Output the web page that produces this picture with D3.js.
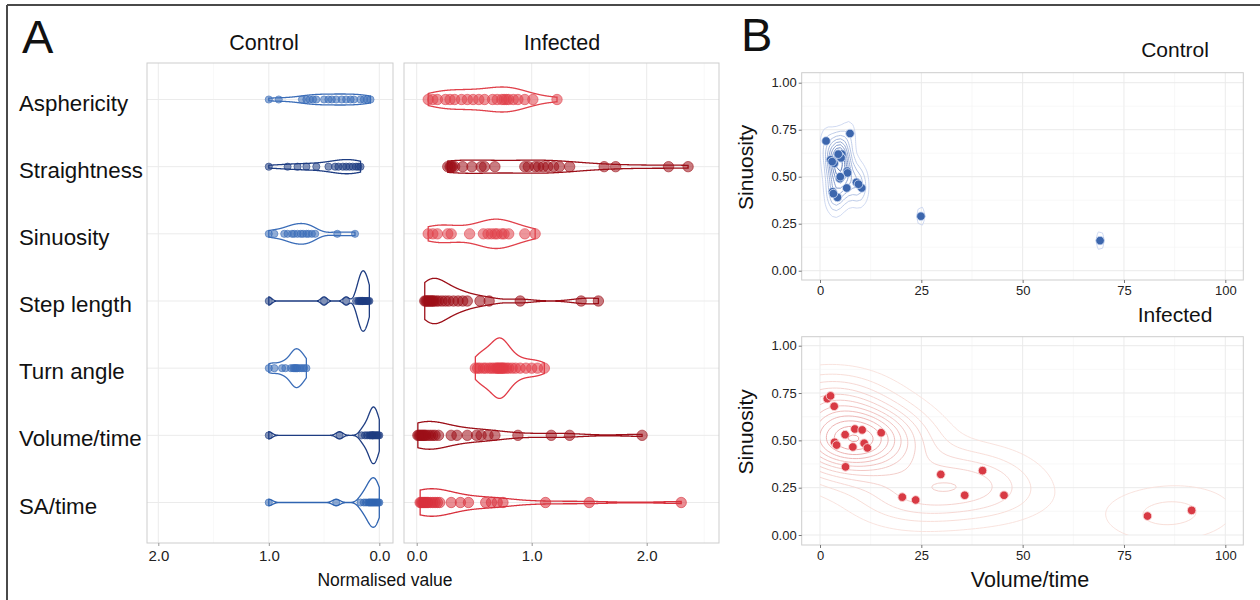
<!DOCTYPE html>
<html><head><meta charset="utf-8">
<script src="https://cdn.jsdelivr.net/npm/d3@7"></script>
<style>
body{margin:0;background:#fff}
svg{display:block}
text{font-family:"Liberation Sans",Arial,Helvetica,sans-serif}
</style>
</head><body>
<svg id="c" width="1260" height="600"></svg>
<script>
// ---------------- DATA ----------------
const features = ["Asphericity","Straightness","Sinuosity","Step length","Turn angle","Volume/time","SA/time"];
const groupNames = ["Control","Infected"];

// Panel A: normalised values per feature (Control)
const ctrlAsphericity = [1.00,0.91,0.70,0.66,0.63,0.60,0.57,0.50,0.46,0.43,0.39,0.34,0.30,0.26,0.23,0.17,0.14,0.11,0.08];
const ctrlStraightness = [1.00,0.83,0.74,0.66,0.57,0.46,0.40,0.37,0.33,0.30,0.27,0.24,0.21,0.19,0.17];
const ctrlSinuosity = [1.00,0.95,0.86,0.83,0.79,0.77,0.74,0.71,0.69,0.66,0.64,0.61,0.58,0.38,0.22];
const ctrlStepLength = [1.00,0.50,0.30,0.21,0.19,0.18,0.17,0.16,0.15,0.15,0.14,0.13,0.12,0.11,0.10,0.09];
const ctrlTurnAngle = [1.00,0.95,0.88,0.85,0.80,0.78,0.77,0.76,0.75,0.74,0.72,0.70,0.68,0.66];
const ctrlVolumeTime = [1.00,0.36,0.16,0.13,0.11,0.09,0.08,0.07,0.06,0.06,0.05,0.04,0.03,0.02,0.01,0.00];
const ctrlSATime = [1.00,0.39,0.17,0.14,0.12,0.10,0.09,0.08,0.07,0.06,0.05,0.04,0.03,0.02,0.01,0.00];

// Panel A: normalised values per feature (Infected)
const infAsphericity = [0.10,0.14,0.18,0.25,0.29,0.33,0.39,0.44,0.49,0.54,0.59,0.66,0.70,0.74,0.76,0.78,0.80,0.84,0.88,0.94,1.01,1.22];
const infStraightness = [0.27,0.29,0.30,0.31,0.33,0.40,0.48,0.56,0.59,0.68,0.94,0.97,1.03,1.06,1.10,1.14,1.19,1.24,1.33,1.63,1.73,2.19,2.36];
const infSinuosity = [0.10,0.14,0.18,0.27,0.30,0.46,0.58,0.62,0.65,0.68,0.70,0.74,0.76,0.80,0.94,1.03];
const infStepLength = [0.07,0.08,0.09,0.10,0.11,0.12,0.13,0.14,0.15,0.17,0.19,0.22,0.25,0.28,0.32,0.36,0.40,0.44,0.55,0.63,0.90,1.43,1.58];
const infTurnAngle = [0.51,0.53,0.55,0.58,0.60,0.63,0.65,0.67,0.69,0.70,0.71,0.72,0.73,0.74,0.75,0.76,0.78,0.80,0.83,0.86,0.90,0.95,1.00,1.05,1.11];
const infVolumeTime = [0.01,0.02,0.03,0.04,0.05,0.06,0.07,0.08,0.10,0.12,0.14,0.16,0.19,0.30,0.35,0.44,0.52,0.56,0.62,0.68,0.88,1.17,1.33,1.96];
const infSATime = [0.03,0.04,0.05,0.06,0.07,0.08,0.09,0.10,0.12,0.14,0.16,0.18,0.20,0.30,0.38,0.45,0.60,0.65,0.70,0.75,1.12,1.50,2.30];

const violinTicks = [2.0, 1.0, 0.0];
const violinTicksInf = [0.0, 1.0, 2.0];

// Panel B: Volume/time vs Sinuosity (control includes overlapping points)
const ctrlVolume = [1.5,7.4,2.6,3.5,4.9,5.4,4.9,6.7,6.6,9.0,10.3,3.1,4.3,24.9,69.1,4.9,5.2,3.0,6.8,9.5,3.3,5.0,4.5];
const ctrlSinu   = [0.69,0.73,0.59,0.57,0.615,0.62,0.49,0.53,0.44,0.47,0.44,0.42,0.39,0.29,0.16,0.61,0.60,0.58,0.52,0.46,0.41,0.50,0.62];
const infVolume = [1.8,2.6,3.5,3.6,4.1,6.2,8.6,10.4,8.1,10.9,11.7,15.1,6.3,20.3,23.6,29.8,35.7,40.1,45.4,80.8,91.7];
const infSinu   = [0.72,0.735,0.68,0.49,0.475,0.53,0.56,0.555,0.465,0.485,0.46,0.54,0.36,0.20,0.185,0.32,0.21,0.34,0.21,0.10,0.13];
const scatterXTicks = [0,25,50,75,100];
const scatterYTicks = [0,0.25,0.5,0.75,1];

// ---------------- STYLE ----------------
const ctrlColors = ["#3b6db8","#1e3d82","#3b6db8","#1e3d82","#3b6db8","#1e3d82","#2f64b1"];
const infColors  = ["#e0414b","#9c0f18","#e0414b","#9c0f18","#e13a46","#9c0f18","#d8313d"];
const gridMajor = "#ebebeb", gridMinor = "#f4f4f4", borderCol = "#cdcdcd";

const svg = d3.select("#c");

svg.append("line").attr("x1",7).attr("x2",1260).attr("y1",5).attr("y2",5).attr("stroke","#4a4a4a").attr("stroke-width",2);
svg.append("line").attr("x1",7).attr("x2",7).attr("y1",5).attr("y2",600).attr("stroke","#4a4a4a").attr("stroke-width",2);

svg.append("text").attr("x",22).attr("y",52.5).attr("font-size",47).attr("fill","#111").text("A");
svg.append("text").attr("x",741).attr("y",50.5).attr("font-size",47).attr("fill","#111").text("B");

// ---------------- PANEL A ----------------
const yRow = d3.scalePoint().domain(features).range([99.5, 502.5]);
const rowStep = yRow.step();
const aTop = 63, aBottom = 543;

const ctrlData = [ctrlAsphericity,ctrlStraightness,ctrlSinuosity,ctrlStepLength,ctrlTurnAngle,ctrlVolumeTime,ctrlSATime];
const infData  = [infAsphericity,infStraightness,infSinuosity,infStepLength,infTurnAngle,infVolumeTime,infSATime];

const xCtrl = d3.scaleLinear().domain([2,0]).range([158.3,379.3]);
const xInf  = d3.scaleLinear().domain([0,2]).range([416.7,646.7]);

function nrd0(v){
  const s = d3.deviation(v);
  const q = (d3.quantile(v,0.75)-d3.quantile(v,0.25))/1.34;
  let lo = Math.min(s,q);
  if(!(lo>0)) lo = s || 1;
  return 0.9*lo*Math.pow(v.length,-0.2);
}
function kde1(v){
  const bw = nrd0(v), lo = d3.min(v), hi = d3.max(v), n = 512;
  return d3.range(n).map(i=>{
    const t = lo+(hi-lo)*i/(n-1);
    let s = 0;
    for(const x of v){const z=(t-x)/bw; s+=Math.exp(-0.5*z*z);}
    return [t, s/(v.length*bw*Math.sqrt(2*Math.PI))];
  });
}

function violinPanel(data, x, colors, left, right, title, titleX, ticks){
  const g = svg.append("g");
  g.append("rect").attr("x",left).attr("y",aTop).attr("width",right-left).attr("height",aBottom-aTop).attr("fill","#fff");
  const lo = Math.min(x.invert(left),x.invert(right)), hi = Math.max(x.invert(left),x.invert(right));
  d3.range(Math.ceil(lo*2)/2, hi, 0.5).forEach(v=>{
    const major = Math.abs(v-Math.round(v))<1e-9;
    g.append("line").attr("x1",x(v)).attr("x2",x(v)).attr("y1",aTop).attr("y2",aBottom)
      .attr("stroke",major?gridMajor:gridMinor).attr("stroke-width",major?1:0.6);
  });
  features.forEach(f=>{
    g.append("line").attr("x1",left).attr("x2",right).attr("y1",yRow(f)).attr("y2",yRow(f)).attr("stroke",gridMajor);
  });
  const dens = data.map(kde1);
  const maxD = d3.max(dens, d=>d3.max(d, p=>p[1]));
  const w = d3.scaleLinear().domain([0,maxD]).range([0,0.45*rowStep]);
  dens.forEach((d,i)=>{
    const yc = yRow(features[i]);
    const area = d3.area().x(p=>x(p[0])).y0(p=>yc-w(p[1])).y1(p=>yc+w(p[1]));
    g.append("path").attr("d",area(d)).attr("fill","none").attr("stroke",colors[i]).attr("stroke-width",1.3);
  });
  data.forEach((vals,i)=>{
    const yc = yRow(features[i]);
    g.selectAll(null).data(vals).enter().append("circle")
      .attr("cx",v=>x(v)).attr("cy",yc).attr("r", title==="Control"?3.6:5.2)
      .attr("fill",colors[i]).attr("fill-opacity",0.55)
      .attr("stroke",colors[i]).attr("stroke-opacity",0.75).attr("stroke-width",0.8);
  });
  g.append("rect").attr("x",left).attr("y",aTop).attr("width",right-left).attr("height",aBottom-aTop)
    .attr("fill","none").attr("stroke",borderCol);
  const ax = d3.axisBottom(x).tickValues(ticks).tickFormat(d3.format(".1f")).tickSize(3).tickPadding(4);
  const axg = svg.append("g").attr("transform",`translate(0,${aBottom})`).call(ax);
  axg.select(".domain").remove();
  axg.selectAll(".tick line").attr("stroke","#999");
  axg.selectAll(".tick text").attr("font-size",15).attr("fill","#222").attr("font-family","'Open Sans','Liberation Sans',sans-serif");
  svg.append("text").attr("x",titleX).attr("y",50).attr("text-anchor","middle").attr("font-size",21.5).attr("fill","#111").text(title);
}
violinPanel(ctrlData, xCtrl, ctrlColors, 147, 393, groupNames[0], 264, violinTicks);
violinPanel(infData, xInf, infColors, 404, 719, groupNames[1], 562, violinTicksInf);

features.forEach(f=>{
  svg.append("text").attr("x",19).attr("y",yRow(f)+11).attr("font-size",22.3).attr("fill","#111").text(f);
});
svg.append("text").attr("x",385).attr("y",586).attr("text-anchor","middle").attr("font-size",17.5).attr("fill","#111")
  .text("Normalised value");

// ---------------- PANEL B ----------------
const bLeft = 801.7, bRight = 1243.3;
const xB = d3.scaleLinear().domain([0,100]).range([820,1225.3]);

function bandwidthNrd(v){
  const r = d3.quantile(v,0.75)-d3.quantile(v,0.25);
  return 4*1.06*Math.min(d3.deviation(v), r/1.34)*Math.pow(v.length,-0.2);
}

let clipId = 0;
function scatterPanel(xs, ys, top, bottom, y0px, y1px, ptColor, ptStroke, c0, c1, title, titleY, showXTitle, adjust, nLevels){
  const y = d3.scaleLinear().domain([0,1]).range([y0px,y1px]);
  const g = svg.append("g");
  g.append("rect").attr("x",bLeft).attr("y",top).attr("width",bRight-bLeft).attr("height",bottom-top).attr("fill","#fff");
  d3.range(0,100.01,12.5).forEach((v,i)=>{
    g.append("line").attr("x1",xB(v)).attr("x2",xB(v)).attr("y1",top).attr("y2",bottom)
      .attr("stroke",i%2===0?gridMajor:gridMinor).attr("stroke-width",i%2===0?1:0.6);
  });
  d3.range(0,1.001,0.125).forEach((v,i)=>{
    g.append("line").attr("x1",bLeft).attr("x2",bRight).attr("y1",y(v)).attr("y2",y(v))
      .attr("stroke",i%2===0?gridMajor:gridMinor).attr("stroke-width",i%2===0?1:0.6);
  });

  const hx = adjust*bandwidthNrd(xs)/4, hy = adjust*bandwidthNrd(ys)/4;
  const sx = 100/99, sy = 1/99, i0 = -20, j0 = -20, nx = 140, ny = 140;
  const vals = new Float64Array(nx*ny);
  const n = xs.length;
  for(let j=0;j<ny;j++){
    const gy = (j+j0)*sy;
    for(let i=0;i<nx;i++){
      const gx = (i+i0)*sx;
      let s = 0;
      for(let k=0;k<n;k++){
        const a=(gx-xs[k])/hx, b=(gy-ys[k])/hy;
        s += Math.exp(-0.5*(a*a+b*b));
      }
      vals[j*nx+i] = s/(2*Math.PI*n*hx*hy);
    }
  }
  const zmax = d3.max(vals);
  const levels = d3.ticks(0, zmax, nLevels).filter(l=>l>0 && l<zmax);
  const conts = d3.contours().size([nx,ny]).thresholds(levels)(Array.from(vals));
  const cid = "clip"+(clipId++);
  svg.append("clipPath").attr("id",cid).append("rect")
    .attr("x",xB(0)).attr("y",y(1)).attr("width",xB(100)-xB(0)).attr("height",y(0)-y(1));
  const cg = g.append("g").attr("clip-path",`url(#${cid})`);
  const col = d3.interpolateRgb(c0,c1);
  conts.forEach((c,li)=>{
    let dstr = "";
    c.coordinates.forEach(poly=>poly.forEach(ring=>{
      dstr += "M" + ring.map(p=>{
        const dx = (p[0]-0.5+i0)*sx, dy = (p[1]-0.5+j0)*sy;
        return xB(dx).toFixed(2)+","+y(dy).toFixed(2);
      }).join("L") + "Z";
    }));
    cg.append("path").attr("d",dstr).attr("fill","none")
      .attr("stroke",col(levels.length>1?li/(levels.length-1):1)).attr("stroke-width",0.9);
  });

  g.selectAll(null).data(xs.map((v,i)=>[v,ys[i]])).enter().append("circle")
    .attr("cx",d=>xB(d[0])).attr("cy",d=>y(d[1])).attr("r",4.3)
    .attr("fill",ptColor).attr("stroke",ptStroke).attr("stroke-width",1);

  g.append("rect").attr("x",bLeft).attr("y",top).attr("width",bRight-bLeft).attr("height",bottom-top)
    .attr("fill","none").attr("stroke",borderCol);

  const axL = d3.axisLeft(y).tickValues(scatterYTicks).tickFormat(d3.format(".2f")).tickSize(3).tickPadding(2);
  const gl = svg.append("g").attr("transform",`translate(${bLeft},0)`).call(axL);
  gl.select(".domain").remove();
  gl.selectAll(".tick line").attr("stroke","#777");
  gl.selectAll(".tick text").attr("font-size",13).attr("fill","#222");
  const axB = d3.axisBottom(xB).tickValues(scatterXTicks).tickFormat(d3.format("d")).tickSize(3).tickPadding(3);
  const gb = svg.append("g").attr("transform",`translate(0,${bottom})`).call(axB);
  gb.select(".domain").remove();
  gb.selectAll(".tick line").attr("stroke","#777");
  gb.selectAll(".tick text").attr("font-size",13).attr("fill","#222");

  svg.append("text").attr("transform",`translate(753,${(top+bottom)/2-9}) rotate(-90)`).attr("text-anchor","middle")
    .attr("font-size",21).attr("fill","#111").text("Sinuosity");
  svg.append("text").attr("x",1175).attr("y",titleY).attr("text-anchor","middle").attr("font-size",21).attr("fill","#111").text(title);
  if(showXTitle){
    svg.append("text").attr("x",1030).attr("y",587).attr("text-anchor","middle").attr("font-size",21.5).attr("fill","#111").text("Volume/time");
  }
}
scatterPanel(ctrlVolume, ctrlSinu, 72.7, 280, 270.7, 82.7, "#3c66ad", "rgba(210,222,245,0.8)", "#c9d5ef", "#4467ad", groupNames[0], 57, false, 1.08, 10);
scatterPanel(infVolume, infSinu, 336.7, 545, 535, 345.7, "#d83a44", "rgba(250,215,215,0.9)", "#f8e0da", "#e89d9d", groupNames[1], 322, true, 1.0, 10);
</script>
</body></html>
